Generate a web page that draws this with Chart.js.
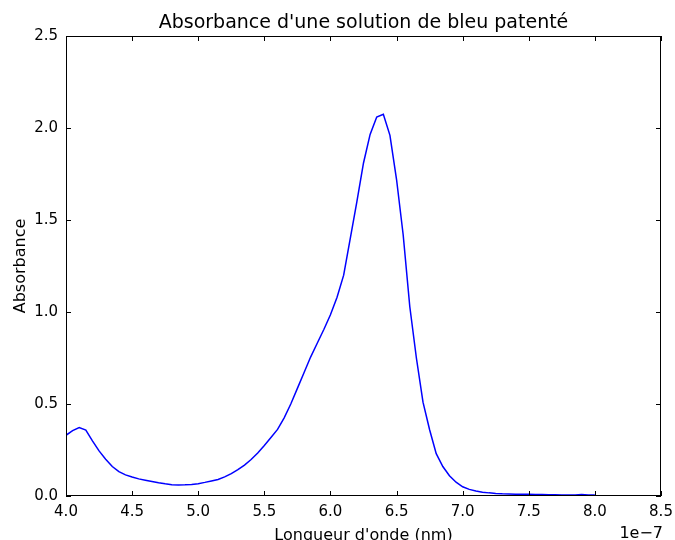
<!DOCTYPE html>
<html>
<head>
<meta charset="utf-8">
<script src="https://cdn.jsdelivr.net/npm/chart.js@4.4.1/dist/chart.umd.min.js"></script>
<style>
  html, body { margin: 0; padding: 0; background: #fff; }
  #wrap { width: 675px; height: 540px; }
</style>
</head>
<body>
<div id="wrap"><canvas id="spectre"></canvas></div>
<script>
// longueurs d'onde (nm), pas de 5 nm
const longueurs = [
  400, 405, 410, 415, 420, 425, 430, 435, 440, 445,
  450, 455, 460, 465, 470, 475, 480, 485, 490, 495,
  500, 505, 510, 515, 520, 525, 530, 535, 540, 545,
  550, 555, 560, 565, 570, 575, 580, 585, 590, 595,
  600, 605, 610, 615, 620, 625, 630, 635, 640, 645,
  650, 655, 660, 665, 670, 675, 680, 685, 690, 695,
  700, 705, 710, 715, 720, 725, 730, 735, 740, 745,
  750, 755, 760, 765, 770, 775, 780, 785, 790, 795, 800
];
// absorbance
const absorbance = [
  0.330, 0.355, 0.372, 0.358, 0.300, 0.245, 0.200, 0.160, 0.132, 0.115,
  0.103, 0.093, 0.086, 0.079, 0.072, 0.066, 0.061, 0.060, 0.061, 0.063,
  0.067, 0.074, 0.082, 0.090, 0.104, 0.122, 0.143, 0.168, 0.198, 0.234,
  0.275, 0.318, 0.362, 0.425, 0.500, 0.585, 0.670, 0.755, 0.830, 0.905,
  0.985, 1.080, 1.200, 1.400, 1.600, 1.810, 1.965, 2.060, 2.075, 1.960,
  1.720, 1.420, 1.030, 0.750, 0.510, 0.360, 0.230, 0.160, 0.110, 0.075,
  0.050, 0.036, 0.027, 0.021, 0.017, 0.014, 0.012, 0.011, 0.010, 0.009,
  0.009, 0.008, 0.008, 0.007, 0.007, 0.006, 0.006, 0.006, 0.008, 0.006, 0.005
];
const xTicks = [400, 450, 500, 550, 600, 650, 700, 750, 800, 850];
const yTicks = [0, 0.5, 1.0, 1.5, 2.0, 2.5];

const titre = "Absorbance d'une solution de bleu patenté";
const titreX = "Longueur d'onde (nm)";
const titreY = "Absorbance";
const police = "'DejaVu Sans', sans-serif";

// cadre, graduations internes sur les 4 côtés, titres
const cadre = {
  id: 'cadre',
  afterDraw(chart) {
    const ctx = chart.ctx;
    const a = chart.chartArea;
    const sx = chart.scales.x, sy = chart.scales.y;
    ctx.save();
    ctx.strokeStyle = '#000';
    ctx.lineWidth = 1;
    ctx.strokeRect(a.left + 0.5, a.top + 0.5, a.right - a.left - 1, a.bottom - a.top - 1);
    ctx.beginPath();
    xTicks.forEach(v => {
      const px = Math.round(sx.getPixelForValue(v)) + 0.5;
      ctx.moveTo(px, a.bottom); ctx.lineTo(px, a.bottom - 5);
      ctx.moveTo(px, a.top); ctx.lineTo(px, a.top + 5);
    });
    yTicks.forEach(v => {
      const py = Math.round(sy.getPixelForValue(v)) + 0.5;
      ctx.moveTo(a.left, py); ctx.lineTo(a.left + 5, py);
      ctx.moveTo(a.right, py); ctx.lineTo(a.right - 5, py);
    });
    ctx.stroke();

    ctx.fillStyle = '#000';
    ctx.font = '19px ' + police;
    ctx.textAlign = 'center';
    ctx.textBaseline = 'alphabetic';
    ctx.fillText(titre, (a.left + a.right) / 2, 28);

    ctx.font = '16px ' + police;
    ctx.fillText(titreX, (a.left + a.right) / 2, 540);
    ctx.textAlign = 'right';
    ctx.fillText('1e\u22127', a.right + 2, 538);

    ctx.translate(25, (a.top + a.bottom) / 2);
    ctx.rotate(-Math.PI / 2);
    ctx.textAlign = 'center';
    ctx.fillText(titreY, 0, 0);
    ctx.restore();
  }
};

new Chart(document.getElementById('spectre'), {
  type: 'line',
  data: {
    datasets: [{
      data: longueurs.map((l, i) => ({ x: l, y: absorbance[i] })),
      borderColor: '#0000ff',
      borderWidth: 1.5,
      pointRadius: 0,
      tension: 0,
      fill: false
    }]
  },
  options: {
    responsive: true,
    maintainAspectRatio: false,
    animation: false,
    devicePixelRatio: 1,
    layout: { padding: { left: 0, right: 14, top: 36, bottom: 0 } },
    plugins: { legend: { display: false }, tooltip: { enabled: false } },
    scales: {
      x: {
        type: 'linear',
        min: 400,
        max: 850,
        afterFit: s => { s.height = 44; s.paddingLeft = 0; s.paddingRight = 0; },
        afterBuildTicks: s => { s.ticks = xTicks.map(v => ({ value: v })); },
        grid: { display: false, drawTicks: false },
        border: { display: false },
        ticks: {
          padding: 7,
          color: '#000',
          font: { family: police, size: 15 },
          maxRotation: 0,
          callback: v => (v / 100).toFixed(1)
        }
      },
      y: {
        min: 0,
        max: 2.5,
        afterFit: s => { s.width = 66; s.paddingTop = 0; s.paddingBottom = 0; },
        afterBuildTicks: s => { s.ticks = yTicks.map(v => ({ value: v })); },
        grid: { display: false, drawTicks: false },
        border: { display: false },
        ticks: {
          padding: 8,
          color: '#000',
          font: { family: police, size: 15 },
          callback: v => v.toFixed(1)
        }
      }
    }
  },
  plugins: [cadre]
});
</script>
</body>
</html>
